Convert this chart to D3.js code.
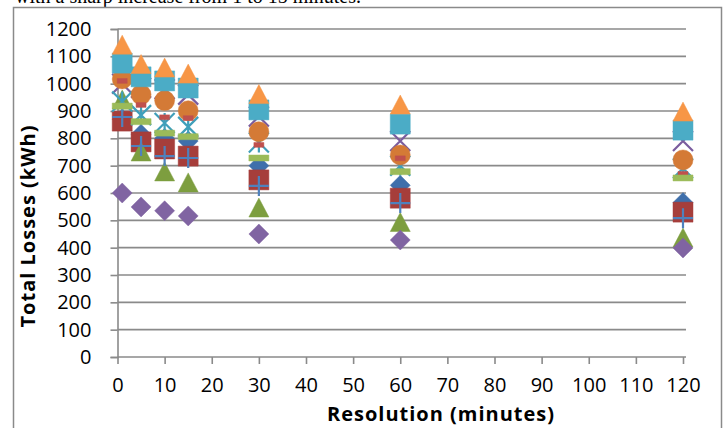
<!DOCTYPE html>
<html>
<head>
<meta charset="utf-8">
<script src="https://cdn.jsdelivr.net/npm/d3@7"></script>
<style>
  body { margin: 0; background: #fff; }
  svg { display: block; }
</style>
</head>
<body>
<svg width="724" height="428"></svg>
<script>
// DATA
const resolutions = [1, 5, 10, 15, 30, 60, 120];
const xTicks = [0, 10, 20, 30, 40, 50, 60, 70, 80, 90, 100, 110, 120];
const yTicks = [0, 100, 200, 300, 400, 500, 600, 700, 800, 900, 1000, 1100, 1200];

const diamondBlue = [870, 815, 800, 790, 700, 628, 565];
const squareRed = [863, 787, 761, 735, 648, 581, 530];
const triangleGreen = [940, 750, 677, 637, 545, 492, 435];
const crossPurple = [1000, 985, 980, 960, 880, 790, 790];
const starAqua = [935, 885, 856, 842, 785, 700, 690];
const circleOrange = [1017, 960, 938, 901, 824, 739, 721];
const plusBlue = [878, 772, 735, 728, 626, 563, 508];
const dashRed = [1010, 922, 877, 874, 776, 727, 670];
const dashGreen = [918, 861, 819, 806, 728, 678, 655];
const diamondPurple = [600, 549, 535, 516, 450, 428, 399];
const squareAqua = [1075, 1025, 1010, 984, 904, 852, 830];
const triangleOrange = [1141, 1070, 1057, 1035, 960, 922, 896];

const svg = d3.select("svg");

// CONSTANTS
const margin = { top: 29, left: 117.5, right: 41, bottom: 71 };
const width = +svg.attr("width");
const height = +svg.attr("height");
const gridColor = "#8a8a8a";
const font = "'Open Sans', sans-serif";

// SCALES
const xScale = d3.scaleLinear().domain([0, 120]).range([margin.left, width - margin.right]);
const yScale = d3.scaleLinear().domain([0, 1200]).range([height - margin.bottom, margin.top]);

// marker shapes, size = half width
const shapes = {
  diamond: { draw(c, r) { c.moveTo(0, -r); c.lineTo(r, 0); c.lineTo(0, r); c.lineTo(-r, 0); c.closePath(); } },
  square: { draw(c, r) { c.rect(-r, -r, 2 * r, 2 * r); } },
  triangle: { draw(c, r) { c.moveTo(0, -r); c.lineTo(r, r * 0.9); c.lineTo(-r, r * 0.9); c.closePath(); } },
  circle: { draw(c, r) { c.moveTo(r, 0); c.arc(0, 0, r, 0, 2 * Math.PI); } },
  cross: { draw(c, r) { c.moveTo(-r, -r); c.lineTo(r, r); c.moveTo(r, -r); c.lineTo(-r, r); } },
  star: { draw(c, r) { c.moveTo(-r, -r); c.lineTo(r, r); c.moveTo(r, -r); c.lineTo(-r, r); c.moveTo(0, -r); c.lineTo(0, r); } },
  plus: { draw(c, r) { c.moveTo(-r, 0); c.lineTo(r, 0); c.moveTo(0, -r); c.lineTo(0, r); } },
  dashShort: { draw(c, r) { c.rect(-r * 0.5, -r * 0.24, r, r * 0.48); } },
  dashLong: { draw(c, r) { c.rect(-r, -r * 0.3, 2 * r, r * 0.6); } }
};

const series = [
  { values: diamondBlue, shape: "diamond", color: "#3f6fab", filled: true },
  { values: squareRed, shape: "square", color: "#a63e3b", filled: true },
  { values: triangleGreen, shape: "triangle", color: "#7d9e3f", filled: true },
  { values: crossPurple, shape: "cross", color: "#7a5c9e", filled: false },
  { values: starAqua, shape: "star", color: "#3f9fba", filled: false },
  { values: circleOrange, shape: "circle", color: "#d47a36", filled: true },
  { values: plusBlue, shape: "plus", color: "#4f81bd", filled: false },
  { values: dashRed, shape: "dashShort", color: "#c0504d", filled: true },
  { values: dashGreen, shape: "dashLong", color: "#9bbb59", filled: true },
  { values: diamondPurple, shape: "diamond", color: "#8064a2", filled: true },
  { values: squareAqua, shape: "square", color: "#4bacc6", filled: true },
  { values: triangleOrange, shape: "triangle", color: "#f79646", filled: true }
];

// top caption, cut off by the crop as in the source page
svg.append("text")
  .attr("x", 15)
  .attr("y", 3)
  .attr("font-family", "'Liberation Serif', serif")
  .attr("font-size", 20)
  .text("with a sharp increase from 1 to 15 minutes.");

// chart border
svg.append("rect")
  .attr("x", 13.5)
  .attr("y", 7.5)
  .attr("width", 708)
  .attr("height", 440)
  .attr("fill", "none")
  .attr("stroke", gridColor)
  .attr("stroke-width", 1.5);

// gridlines
svg.append("g")
  .selectAll("line")
  .data(yTicks.filter(d => d > 0))
  .join("line")
  .attr("x1", margin.left)
  .attr("x2", xScale(120) + 3)
  .attr("y1", d => yScale(d))
  .attr("y2", d => yScale(d))
  .attr("stroke", gridColor)
  .attr("stroke-width", 1.6);

// axes
const xAxis = d3.axisBottom(xScale).tickValues(xTicks).tickSize(7).tickPadding(14);
const yAxis = d3.axisLeft(yScale).tickValues(yTicks).tickFormat(d3.format("d")).tickSize(7).tickPadding(19);

const gx = svg.append("g")
  .attr("transform", `translate(0, ${yScale(0)})`)
  .call(xAxis);
gx.select(".domain").attr("d", `M${margin.left},0H${xScale(120) + 3}`);

const gy = svg.append("g")
  .attr("transform", `translate(${margin.left}, 0)`)
  .call(yAxis);

[gx, gy].forEach(g => {
  g.selectAll(".domain, .tick line").attr("stroke", gridColor).attr("stroke-width", 1.6);
  g.selectAll("text")
    .attr("font-family", font)
    .attr("font-size", 20)
    .attr("fill", "#000");
});

// axis titles
svg.append("text")
  .attr("x", 441)
  .attr("y", 421)
  .attr("text-anchor", "middle")
  .attr("font-family", font)
  .attr("font-weight", "bold")
  .attr("font-size", 20)
  .attr("letter-spacing", 1)
  .text("Resolution (minutes)");

svg.append("text")
  .attr("transform", "translate(35, 226) rotate(-90)")
  .attr("text-anchor", "middle")
  .attr("font-family", font)
  .attr("font-weight", "bold")
  .attr("font-size", 20)
  .attr("letter-spacing", 1)
  .text("Total Losses (kWh)");

// markers
const symbol = d3.symbol();
series.forEach(s => {
  svg.append("g")
    .selectAll("path")
    .data(s.values.map((v, i) => ({ x: resolutions[i], y: v })))
    .join("path")
    .attr("transform", d => `translate(${xScale(d.x)}, ${yScale(d.y)})`)
    .attr("d", symbol.type(shapes[s.shape]).size(10))
    .attr("fill", s.filled ? s.color : "none")
    .attr("stroke", s.color)
    .attr("stroke-width", s.filled ? 0.8 : 2.2)
    .attr("stroke-opacity", s.filled ? 0.6 : 1);
});
</script>
</body>
</html>
